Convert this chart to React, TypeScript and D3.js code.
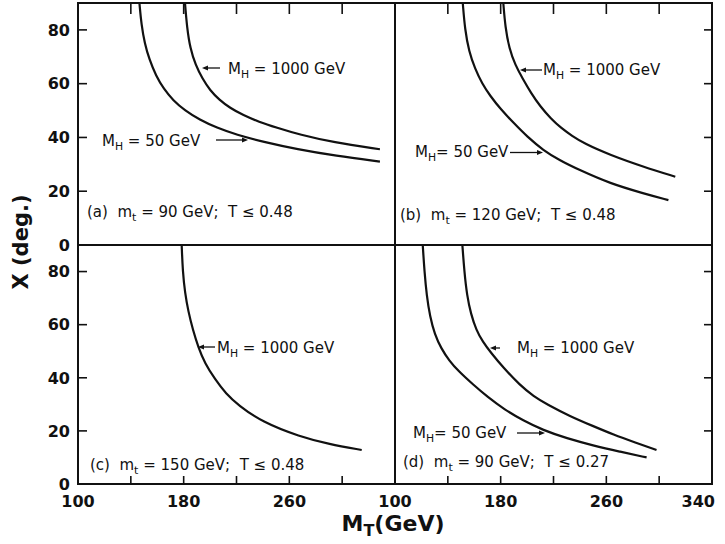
import React from "react";
import * as d3 from "d3";

// values: [M_T (GeV), X (deg)]
const curveA50 = [[146.5, 90], [148, 82], [150.5, 75], [154, 69], [159, 63], [165, 58], [172, 53.8], [181, 50], [192, 46.6], [205, 43.6], [220, 41], [240, 38.4], [266, 35.6], [295, 33.2], [328.6, 31]];
const curveA1000 = [[181, 90], [182.5, 81], [185, 73], [189, 67], [194, 62], [200, 57.5], [207, 54], [215, 51], [225, 48.3], [237, 45.8], [250, 43.7], [268, 41], [293, 38.2], [328.6, 35.6]];
const curveB50 = [[151.3, 90], [153, 80], [156, 72], [160.6, 65.5], [166, 60], [172, 55.5], [180, 50.5], [190, 45.3], [200, 40.3], [212.3, 35.2], [225, 31.4], [240, 27.8], [262.7, 22.9], [288, 19.2], [307, 16.7]];
const curveB1000 = [[182, 90], [183.5, 81], [186.5, 73], [191, 67], [196.5, 62], [203, 56.5], [210, 51.5], [218, 47], [226, 43.4], [234, 40.6], [243, 37.8], [262.7, 33.5], [288, 29.1], [312.2, 25.4]];
const curveC1000 = [[178.5, 90], [179.3, 80], [181, 72], [183.5, 65], [187, 58], [191.1, 51.5], [196, 45.5], [203.7, 39.5], [212, 34], [221.4, 29.7], [239.1, 23.4], [268, 17.8], [290, 15], [314.8, 12.8]];
const curveD50 = [[121, 90], [122.3, 80], [124, 71], [126.5, 63], [130, 56.5], [135, 51], [141, 46.5], [148, 42.5], [159, 37.5], [170, 32.8], [183, 28], [197, 23.9], [212, 20.3], [230, 17.2], [250, 14.5], [270, 12.2], [290.5, 10]];
const curveD1000 = [[151, 90], [152.5, 80], [154.5, 71], [157.5, 64], [161.5, 58], [166.5, 53.5], [172.5, 49.5], [182, 43.8], [194.6, 37.2], [205, 33], [215, 30], [232.5, 25.5], [250, 21.8], [265.3, 18.6], [282, 15.6], [298, 12.8]];

const xMinorTicks = [140, 180, 220, 260, 300];
const yTicks = [0, 20, 40, 60, 80];
const yInnerTicks = [20, 40, 60, 80];
const xLabelsLeft = [100, 180, 260];
const xLabelsRight = [100, 180, 260, 340];

const W = 725;
const H = 544;
const L = 78, MID = 395, R = 712;
const TOP = 3, HMID = 245, BOT = 484;

const xLeft = d3.scaleLinear().domain([100, 340]).range([L, MID]);
const xRight = d3.scaleLinear().domain([100, 340]).range([MID, R]);
const yTop = d3.scaleLinear().domain([0, 90]).range([HMID, TOP]);
const yBot = d3.scaleLinear().domain([0, 90]).range([BOT, HMID]);

const makeLine = (x, y) =>
  d3.line().x((d) => x(d[0])).y((d) => y(d[1])).curve(d3.curveBasis);

const FONT = "DejaVu Sans, Liberation Sans, sans-serif";

const MH = ({ x, y, value, size = 15, tight = false }) => (
  <text x={x} y={y} fontFamily={FONT} fontSize={size} fill="#111" style={{ whiteSpace: "pre" }}>
    M<tspan fontSize={size * 0.72} dy={4}>H</tspan>
    <tspan dy={-4}>{`${tight ? "" : " "}= ${value} GeV`}</tspan>
  </text>
);

const Caption = ({ x, y, tag, mt, t }) => (
  <text x={x} y={y} fontFamily={FONT} fontSize={15} fill="#111" style={{ whiteSpace: "pre" }}>
    {`(${tag})  m`}
    <tspan fontSize={11} dy={4}>t</tspan>
    <tspan dy={-4}>{` = ${mt} GeV;  T ≤ ${t}`}</tspan>
  </text>
);

const Arrow = ({ x1, y1, x2, y2 }) => {
  const a = Math.atan2(y2 - y1, x2 - x1);
  const len = 6, w = 2.5;
  const bx = x2 - len * Math.cos(a), by = y2 - len * Math.sin(a);
  const px = -Math.sin(a) * w, py = Math.cos(a) * w;
  return (
    <g>
      <line x1={x1} y1={y1} x2={bx} y2={by} stroke="#111" strokeWidth={1.3} />
      <path d={`M${x2},${y2}L${bx + px},${by + py}L${bx - px},${by - py}Z`} fill="#111" />
    </g>
  );
};

export default function App() {
  const panels = [
    { x: xLeft, y: yTop, curves: [curveA50, curveA1000] },
    { x: xRight, y: yTop, curves: [curveB50, curveB1000] },
    { x: xLeft, y: yBot, curves: [curveC1000] },
    { x: xRight, y: yBot, curves: [curveD50, curveD1000] },
  ];

  return (
    <svg width={W} height={H} style={{ position: "absolute", left: 0, top: 0, background: "#fff" }}>
      <defs>
        <clipPath id="clipAll">
          <rect x={L} y={TOP} width={R - L} height={BOT - TOP} />
        </clipPath>
      </defs>

      {/* curves */}
      <g clipPath="url(#clipAll)">
        {panels.map((p, i) =>
          p.curves.map((c, j) => (
            <path key={`${i}-${j}`} d={makeLine(p.x, p.y)(c)} fill="none" stroke="#111" strokeWidth={2.2} />
          ))
        )}
      </g>

      {/* frame */}
      <rect x={L} y={TOP} width={R - L} height={BOT - TOP} fill="none" stroke="#111" strokeWidth={2} />
      <line x1={MID} y1={TOP} x2={MID} y2={BOT} stroke="#111" strokeWidth={2} />
      <line x1={L} y1={HMID} x2={R} y2={HMID} stroke="#111" strokeWidth={2} />

      {/* ticks */}
      <g stroke="#111" strokeWidth={1.6}>
        {xMinorTicks.map((v) => (
          <g key={`t${v}`}>
            <line x1={xLeft(v)} y1={TOP} x2={xLeft(v)} y2={TOP + 11} />
            <line x1={xRight(v)} y1={TOP} x2={xRight(v)} y2={TOP + 11} />
            <line x1={xLeft(v)} y1={BOT} x2={xLeft(v)} y2={BOT - 8} />
            <line x1={xRight(v)} y1={BOT} x2={xRight(v)} y2={BOT - 8} />
          </g>
        ))}
        {yInnerTicks.map((v) => (
          <g key={`y${v}`}>
            <line x1={L} y1={yTop(v)} x2={L + 9} y2={yTop(v)} />
            <line x1={L} y1={yBot(v)} x2={L + 9} y2={yBot(v)} />
            <line x1={R} y1={yTop(v)} x2={R - 8} y2={yTop(v)} />
            <line x1={R} y1={yBot(v)} x2={R - 8} y2={yBot(v)} />
          </g>
        ))}
      </g>

      {/* tick labels */}
      <g fontFamily={FONT} fontSize={16} fontWeight="bold" fill="#111">
        {yTicks.map((v) => (
          <g key={`yl${v}`}>
            <text x={70} y={yTop(v)} dy="0.36em" textAnchor="end">{v}</text>
            <text x={70} y={yBot(v)} dy="0.36em" textAnchor="end">{v}</text>
          </g>
        ))}
        {xLabelsLeft.map((v) => (
          <text key={`xl${v}`} x={xLeft(v)} y={507} textAnchor="middle">{v}</text>
        ))}
        {xLabelsRight.map((v) => (
          <text key={`xr${v}`} x={v === 340 ? 715 : xRight(v)} y={507} textAnchor={v === 340 ? "end" : "middle"}>{v}</text>
        ))}
      </g>

      {/* axis titles */}
      <text x={393} y={531} textAnchor="middle" fontFamily={FONT} fontSize={22} fontWeight="bold" fill="#111">
        M<tspan fontSize={16} dy={5}>T</tspan><tspan dy={-5}>(GeV)</tspan>
      </text>
      <text transform="translate(28,242) rotate(-90)" textAnchor="middle" fontFamily={FONT} fontSize={21} fontWeight="bold" fill="#111">
        X (deg.)
      </text>

      {/* panel (a) */}
      <MH x={228} y={74} value="1000" />
      <Arrow x1={220} y1={68} x2={202} y2={68} />
      <MH x={102} y={146} value="50" />
      <Arrow x1={216} y1={140} x2={248} y2={140} />
      <Caption x={87} y={217} tag="a" mt="90" t="0.48" />

      {/* panel (b) */}
      <MH x={543} y={75} value="1000" />
      <Arrow x1={542} y1={70} x2={520} y2={70} />
      <MH x={415} y={157} value="50" tight />
      <Arrow x1={510} y1={152.5} x2={543} y2={152.5} />
      <Caption x={400} y={220} tag="b" mt="120" t="0.48" />

      {/* panel (c) */}
      <MH x={217} y={353} value="1000" />
      <Arrow x1={215} y1={347} x2={198} y2={347} />
      <Caption x={90} y={470} tag="c" mt="150" t="0.48" />

      {/* panel (d) */}
      <MH x={517} y={353} value="1000" />
      <Arrow x1={500} y1={348} x2={490} y2={348} />
      <MH x={413} y={438} value="50" tight />
      <Arrow x1={517} y1={433} x2={545} y2={433} />
      <Caption x={403} y={467} tag="d" mt="90" t="0.27" />
    </svg>
  );
}
